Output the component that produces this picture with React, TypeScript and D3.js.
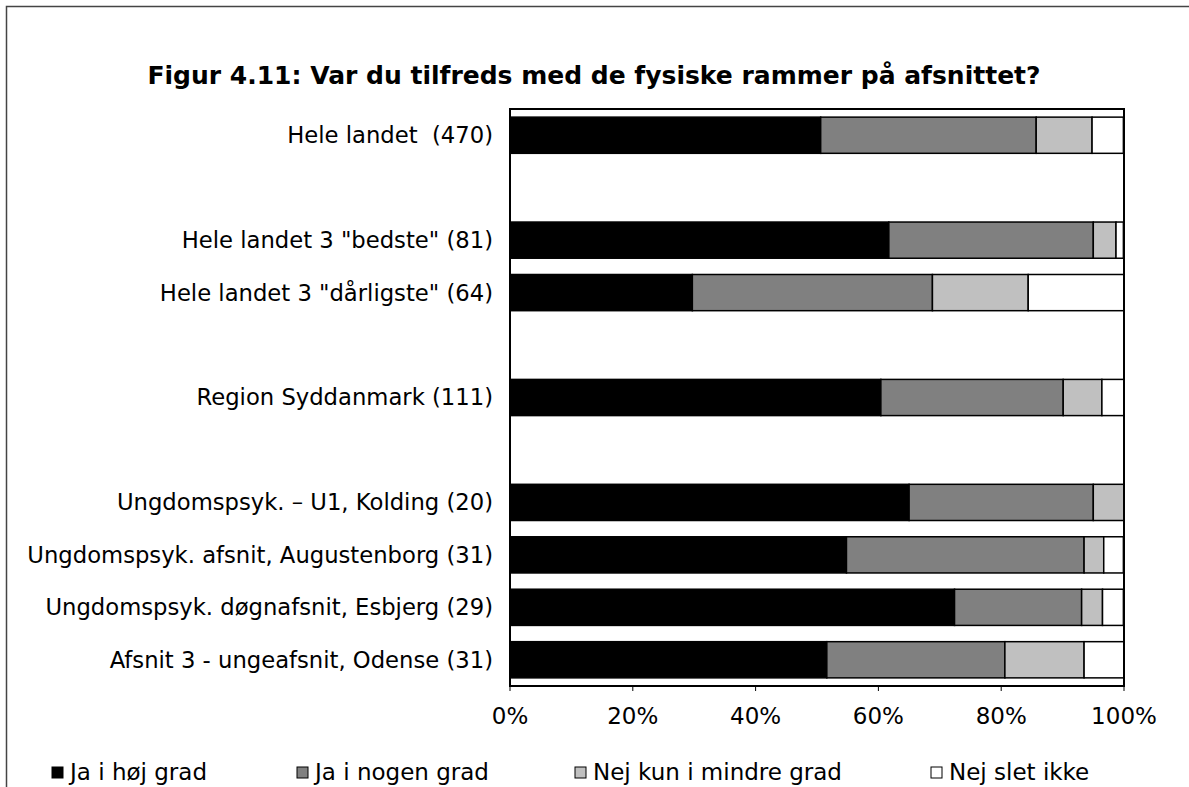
import React from "react";
import * as d3 from "d3";

const title = "Figur 4.11: Var du tilfreds med de fysiske rammer på afsnittet?";
const categories = [
  "Hele landet  (470)",
  "",
  "Hele landet 3 \"bedste\" (81)",
  "Hele landet 3 \"dårligste\" (64)",
  "",
  "Region Syddanmark (111)",
  "",
  "Ungdomspsyk. – U1, Kolding (20)",
  "Ungdomspsyk. afsnit, Augustenborg (31)",
  "Ungdomspsyk. døgnafsnit, Esbjerg (29)",
  "Afsnit 3 - ungeafsnit, Odense (31)",
];
const seriesNames = ["Ja i høj grad", "Ja i nogen grad", "Nej kun i mindre grad", "Nej slet ikke"];
const jaHoej = [50.6, null, 61.7, 29.7, null, 60.4, null, 65.0, 54.8, 72.4, 51.6];
const jaNogen = [35.1, null, 33.3, 39.1, null, 29.7, null, 30.0, 38.7, 20.7, 29.0];
const nejMindre = [9.1, null, 3.7, 15.6, null, 6.3, null, 5.0, 3.2, 3.4, 12.9];
const nejSlet = [5.1, null, 1.2, 15.6, null, 3.6, null, 0.0, 3.2, 3.4, 6.5];
const tickValues = [0, 20, 40, 60, 80, 100];
const colors = ["#000000", "#808080", "#c0c0c0", "#ffffff"];

const W = 1189;
const H = 787;
const FONT = "'DejaVu Sans', Verdana, sans-serif";

export default function App() {
  const left = 510, right = 1124, top = 109, bottom = 686;
  const x = d3.scaleLinear().domain([0, 100]).range([left, right]);
  const y = d3
    .scaleBand<number>()
    .domain(categories.map((_, i) => i))
    .range([top, bottom])
    .paddingInner(0.31)
    .paddingOuter(0.155);

  const series = [jaHoej, jaNogen, nejMindre, nejSlet];
  const stackData = categories
    .map((c, i) => ({ i, vals: series.map((s) => s[i]) }))
    .filter((r) => r.vals[0] !== null)
    .map((r) => {
      const o: any = { i: r.i };
      seriesNames.forEach((n, k) => (o[n] = r.vals[k] as number));
      return o;
    });
  const stacked = d3.stack<any>().keys(seriesNames)(stackData);

  const legendX = [52, 297, 575, 931];

  return (
    <svg
      width={W}
      height={H}
      style={{ position: "absolute", left: 0, top: 0, background: "#fff" }}
      fontFamily={FONT}
    >
      <rect x={0} y={0} width={W} height={H} fill="#fff" />
      <path d={`M6.5,${H} V6.5 H${W}`} fill="none" stroke="#444" strokeWidth={1.5} />
      <text x={594} y={84} textAnchor="middle" fontWeight="bold" fontSize={25}>
        {title}
      </text>
      {stacked.map((layer, k) => (
        <g key={k}>
          {layer.map((d: any) => (
            <rect
              key={d.data.i}
              x={x(d[0])}
              y={y(d.data.i)}
              width={Math.max(0, x(d[1]) - x(d[0]))}
              height={y.bandwidth()}
              fill={colors[k]}
              stroke="#000"
              strokeWidth={1.5}
            />
          ))}
        </g>
      ))}
      <rect x={left} y={top} width={right - left} height={bottom - top} fill="none" stroke="#000" strokeWidth={2} />
      {tickValues.map((t) => (
        <g key={t}>
          <line x1={x(t)} x2={x(t)} y1={bottom} y2={bottom + 5} stroke="#000" strokeWidth={1} />
          <text x={x(t)} y={724} textAnchor="middle" fontSize={23}>
            {t}%
          </text>
        </g>
      ))}
      {categories.map((c, i) =>
        c ? (
          <text
            key={i}
            x={493}
            y={(y(i) as number) + y.bandwidth() / 2}
            dy="0.35em"
            textAnchor="end"
            fontSize={22.7}
            style={{ whiteSpace: "pre" }}
          >
            {c}
          </text>
        ) : null
      )}
      {seriesNames.map((n, k) => (
        <g key={n}>
          <rect x={legendX[k]} y={767} width={11} height={11} fill={colors[k]} stroke="#000" strokeWidth={1} />
          <text x={legendX[k] + 18} y={780} fontSize={23}>
            {n}
          </text>
        </g>
      ))}
    </svg>
  );
}
